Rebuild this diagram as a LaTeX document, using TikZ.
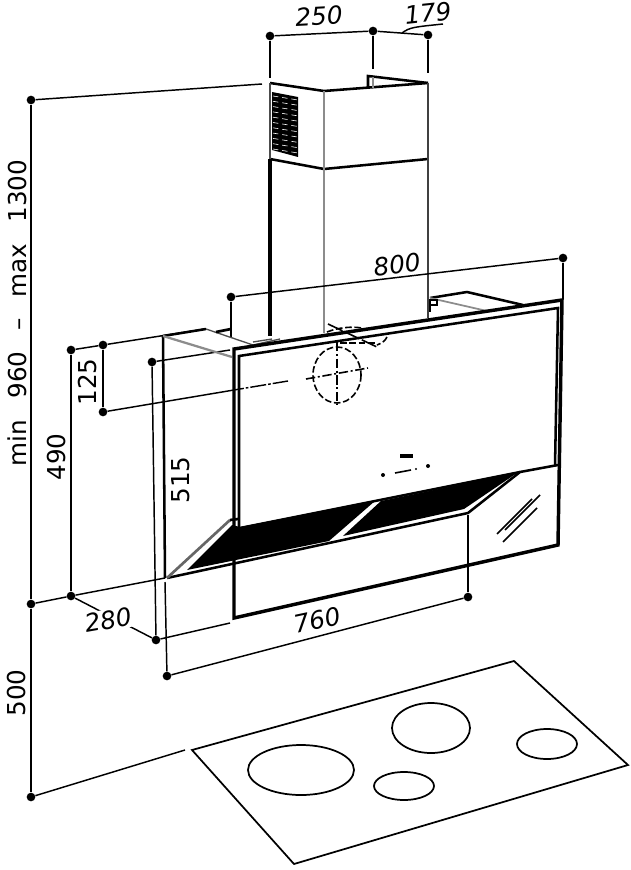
\documentclass[tikz,border=0pt]{standalone}
\usepackage{fontspec}
\setmainfont{DejaVu Sans}
\tikzset{
  hood/.style={line width=2.6pt,black},
  mid/.style={line width=1.9pt,black},
  dimline/.style={line width=1.1pt,black},
  greyl/.style={line width=1.7pt,black!45},
  dimdot/.style={circle,fill=black,inner sep=0pt,minimum size=6.5pt},
  dimtxt/.style={font=\fontsize{18.5}{19}\selectfont\itshape,inner sep=0pt},
  sidetxt/.style={font=\fontsize{18.5}{19}\selectfont,inner sep=0pt,rotate=90},
  dashc/.style={line width=1.2pt,dash pattern=on 5pt off 2pt},
  dashd/.style={line width=1.2pt,dash pattern=on 7pt off 2pt on 1.5pt off 2pt},
}
\begin{document}
\begin{tikzpicture}[x=0.75pt,y=-0.75pt]
\useasboundingbox (0,0) rectangle (631,870);
% dimension dots
\node[dimdot] (a1) at (270,36) {};
\node[dimdot] (a2) at (373,31) {};
\node[dimdot] (a3) at (428,35) {};
\node[dimdot] (b1) at (31,100) {};
\node[dimdot] (b2) at (31,604) {};
\node[dimdot] (b3) at (31,797) {};
\node[dimdot] (c1) at (71,350) {};
\node[dimdot] (c2) at (71,596) {};
\node[dimdot] (d1) at (103,345) {};
\node[dimdot] (d2) at (103,412) {};
\node[dimdot] (e1) at (152,362) {};
\node[dimdot] (e2) at (156,640) {};
\node[dimdot] (f1) at (167,676) {};
\node[dimdot] (f2) at (468,597) {};
\node[dimdot] (g1) at (231,297) {};
\node[dimdot] (g2) at (563,258) {};
% free ends
\coordinate (a1e) at (270,78);
\coordinate (a2e) at (373,69);
\coordinate (a3e) at (428,73);
\coordinate (b1e) at (262,84);
\coordinate (b2e) at (165,578);
\coordinate (b3e) at (185,750);
\coordinate (c1e) at (205,329);
\coordinate (d2e) at (228,391);
\coordinate (e1e) at (230,350);
\coordinate (e2e) at (230,623);
\coordinate (f1e) at (468,515);
\coordinate (g1e) at (231,338);
\coordinate (g2e) at (563,298);
\coordinate (h1) at (163,336);
% chimney
\draw[mid] (270,83) -- (324,91) -- (428,83);
\draw[mid] (368,88) -- (368,76) -- (428,83);
\draw[greyl,line width=1.5pt] (373,77) -- (373,88);
\draw[mid] (270,159) -- (324,169) -- (428,159);
\draw[line width=1.5pt,black!70] (270,83) -- (270,159);
\draw[hood] (270,159) -- (270,336);
\draw[greyl] (324,91) -- (324,333);
\draw[line width=1.5pt,black!75] (428,83) -- (428,318);
% vent grille
\fill[black] (272,92) -- (298,97) -- (298,157) -- (272,150) -- cycle;
\foreach \yy in {0,...,10}{
  \draw[white,line width=0.45pt,dash pattern=on 4pt off 3pt] (273,{96+\yy*5.3}) -- (298,{100+\yy*5.3});
}
% dimension lines
\draw[dimline] (a1) -- (a2) -- (a3);
\draw[dimline] (a1) -- (a1e);
\draw[dimline] (a2) -- (a2e);
\draw[dimline] (a3) -- (a3e);
\draw[dimline] (402,33) .. controls (410,27) and (415,27) .. (443,24);
\draw[dimline] (b1) -- (b1e);
\draw[dimline] (b1) -- (b2) -- (b3);
\draw[dimline] (b2) -- (c2) -- (b2e);
\draw[dimline] (b3) -- (b3e);
\draw[dimline] (c1) -- (c2);
\draw[dimline] (c1) -- (d1) -- (c1e);
\draw[dimline] (d1) -- (d2);
\draw[dimline] (d2) -- (d2e);
\draw[dimline,dash pattern=on 12pt off 1.5pt on 2pt off 1.5pt] (d2e) -- (288,381);
\draw[dimline] (e1) -- (e2);
\draw[dimline] (e1) -- (e1e);
\draw[dimline] (e2) -- (e2e);
\draw[dimline] (c2) -- (e2);
\draw[dimline] (f1) -- (f2);
\draw[dimline] (f1e) -- (f2);
\draw[dimline] (g1) -- (g2);
\draw[dimline] (g1) -- (g1e);
\draw[dimline] (g2) -- (g2e);
\draw[mid] (h1) -- (165,578);
\draw[dimline] (165,582) -- (f1);
% top plates
\draw[mid] (h1) -- (206,329);
\draw[line width=1pt,black!70] (206,329) -- (253,345) -- (280,339);
\draw[line width=1pt,black!70] (253,342) -- (272,339);
\draw[greyl] (h1) -- (232,357);
\draw[hood,line width=2pt] (216,332) -- (231,329);
\draw[mid] (430,298) -- (467,292) -- (523,305);
\draw[line width=1.3pt,black!45] (430,298) -- (487,311);
\draw[mid] (430,300) rectangle (437,305);
\draw[mid] (430,305) -- (430,312);
% hood panel
\draw[hood] (234,618) -- (234,349) -- (562,300) -- (558,545) -- cycle;
\draw[mid] (239,529) -- (239,356) -- (558,308) -- (555,466);
% filter band
\fill[black] (187,570) -- (232,525) -- (240,527) -- (375,501) -- (329,541) -- cycle;
\fill[black] (343,536) -- (381,501) -- (517,473) -- (464,509) -- cycle;
\draw[white,line width=0.9pt] (241,560) -- (258,557);
\draw[mid] (167,578) -- (468,513) -- (520,472) -- (558,465);
\draw[mid] (240,528) -- (520,472);
\draw[line width=2pt,black!60] (167,578) -- (230,520);
\draw[hood,line width=2pt] (230,520) -- (238,519);
% outlet
\draw[dashc] (337,375) ellipse [x radius=24,y radius=28];
\draw[dashd] (337,342) -- (337,405);
\draw[dashd] (306,379) -- (368,368);
\draw[line width=1.2pt,dash pattern=on 12pt off 2pt] (328,324) -- (377,347);
\draw[dashc] (340,343) -- (377,343);
\draw[dashc] (387,337) .. controls (385,341) and (382,343) .. (377,345);
\draw[dashc] (327,332) .. controls (337,328) and (350,326) .. (362,328);
% control panel
\fill[black] (400,454) rectangle (413,458);
\fill[black] (383,475) circle (2);
\draw[line width=1.2pt] (395,473) -- (411,470);
\fill[black] (416,469) circle (1.2);
\fill[black] (428,466) circle (2);
% glass reflections
\draw[mid,line width=1.3pt] (497,534) -- (532,499);
\draw[mid,line width=1.3pt] (505,530) -- (540,495);
\draw[mid,line width=1.3pt] (503,542) -- (537,508);
% cooktop
\draw[line width=1.3pt] (192,750) -- (514,661) -- (628,765) -- (294,864) -- cycle;
\draw[line width=1.3pt] (301,770) ellipse [x radius=53,y radius=25];
\draw[line width=1.3pt] (431,728) ellipse [x radius=39,y radius=25];
\draw[line width=1.3pt] (547,744) ellipse [x radius=30,y radius=15];
\draw[line width=1.3pt] (404,786) ellipse [x radius=30,y radius=14];
% labels
\node[dimtxt,rotate=3] (t250) at (319,16) {250};
\node[dimtxt,rotate=6] (t179) at (428,13) {179};
\node[dimtxt,rotate=7] (t800) at (397,265) {800};
\node[dimtxt,rotate=10,fill=white,inner sep=1pt] (t280) at (108,620) {280};
\node[dimtxt,rotate=12] (t760) at (317,620) {760};
\node[sidetxt] (tmin) at (17,313) {min\hspace{0.85em}960\hspace{0.85em}–\hspace{0.85em}max\hspace{0.85em}1300};
\node[sidetxt] (t500) at (17,693) {500};
\node[sidetxt] (t490) at (57,457) {490};
\node[sidetxt] (t125) at (88,382) {125};
\node[sidetxt] (t515) at (181,480) {515};
\end{tikzpicture}
\end{document}
